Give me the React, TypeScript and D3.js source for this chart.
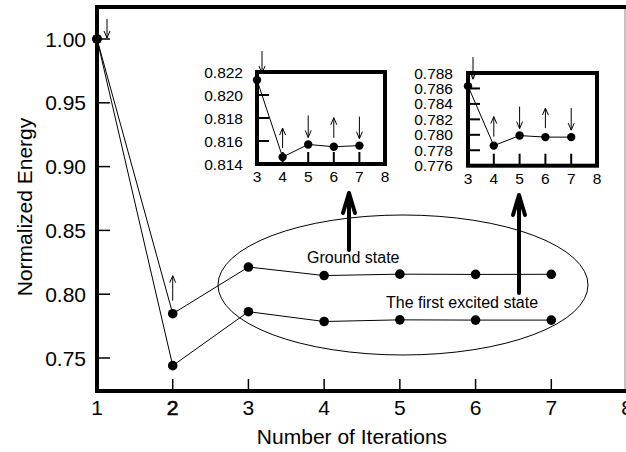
import React from 'react';
import * as d3 from 'd3';

// iterations and normalized energies
const iterations = [1, 2, 3, 4, 5, 6, 7];
const groundState = [1.0, 0.7847, 0.8213, 0.8146, 0.8157, 0.8155, 0.8156];
const excitedState = [1.0, 0.744, 0.7863, 0.7786, 0.7799, 0.7797, 0.7797];

const mainXTicks = [1, 2, 3, 4, 5, 6, 7, 8];
const mainYTicks = [0.75, 0.8, 0.85, 0.9, 0.95, 1.0];

// zoomed views of iterations 3..7
const insetIterations = [3, 4, 5, 6, 7];
const insetXTicks = [3, 4, 5, 6, 7, 8];
const insetArrows = ['down', 'up', 'down', 'up', 'down'];
const groundTicks = [0.814, 0.816, 0.818, 0.82, 0.822];
const excitedTicks = [0.776, 0.778, 0.78, 0.782, 0.784, 0.786, 0.788];

const FONT = 'Liberation Sans, Arial, sans-serif';

const Arrow = ({ x, y, dir, len = 20, head = 7, hw = 3 }) => {
  // y = lower end of the arrow's extent
  const top = y - len;
  const tipY = dir === 'down' ? y : top;
  const s = dir === 'down' ? -1 : 1;
  return (
    <g stroke="#000" strokeWidth={1} fill="none">
      <line x1={x} y1={top} x2={x} y2={y} />
      <polyline points={`${x - hw},${tipY + s * head} ${x},${tipY} ${x + hw},${tipY + s * head}`} />
    </g>
  );
};

const BigArrow = ({ x, y1, y2 }) => (
  <g stroke="#000" fill="none" strokeLinecap="round" strokeLinejoin="round">
    <line x1={x} y1={y1} x2={x} y2={y2 + 2} strokeWidth={4} />
    <polyline points={`${x - 6},${y2 + 20} ${x},${y2} ${x + 6},${y2 + 20}`} strokeWidth={4} />
  </g>
);

const Inset = ({ x0, x1, y0, y1, ticks, values, labelX }) => {
  const x = d3.scaleLinear().domain([3, 8]).range([x0, x1]);
  const y = d3.scaleLinear().domain([ticks[0], ticks[ticks.length - 1]]).range([y1, y0]);
  const line = d3.line<number>().x((_, i) => x(insetIterations[i])).y((d) => y(d));
  return (
    <g>
      {ticks.slice(1, -1).map((t) => (
        <line key={t} x1={x0} x2={x0 + 12} y1={y(t)} y2={y(t)} stroke="#000" strokeWidth={2} />
      ))}
      {insetXTicks.slice(1, -1).map((t) => (
        <line key={t} x1={x(t)} x2={x(t)} y1={y1} y2={y1 - 12} stroke="#000" strokeWidth={2} />
      ))}
      <rect x={x0} y={y0} width={x1 - x0} height={y1 - y0} fill="none" stroke="#000" strokeWidth={4} />
      {ticks.map((t) => (
        <text key={t} x={labelX} y={y(t)} dy="0.36em" textAnchor="end" fontSize={15.5} fontFamily={FONT}>
          {t.toFixed(3)}
        </text>
      ))}
      {insetXTicks.map((t) => (
        <text key={t} x={x(t)} y={y1 + 18} textAnchor="middle" fontSize={15.5} fontFamily={FONT}>
          {t}
        </text>
      ))}
      <path d={line(values) || ''} fill="none" stroke="#000" strokeWidth={1} />
      {values.map((v, i) => (
        <circle key={i} cx={x(insetIterations[i])} cy={y(v)} r={4.2} fill="#000" />
      ))}
      {values.map((v, i) => {
        const dir = insetArrows[i];
        const ax = x(insetIterations[i]) + (i === 0 ? 5 : 0);
        const base = dir === 'down' ? y(v) - 7 : y(v) - 9;
        return <Arrow key={i} x={ax} y={base} dir={dir} len={dir === 'down' ? 22 : 20} />;
      })}
    </g>
  );
};

export default function App() {
  const W = 626;
  const H = 452;
  const x = d3.scaleLinear().domain([1, 8]).range([97, 627]);
  const y = d3.scaleLinear().domain([0.75, 1.0]).range([358, 39]);
  const top = 7;
  const bottom = 391;
  const left = 97;
  const right = 625;
  const line = d3.line<number>().x((_, i) => x(iterations[i])).y((d) => y(d));

  return (
    <svg width={W} height={H} style={{ position: 'absolute', left: 0, top: 0 }}>
      <rect width={W} height={H} fill="#fff" />
      {/* frame */}
      <line x1={right} x2={right} y1={top} y2={bottom} stroke="#888" strokeWidth={1} />
      <line x1={left} x2={W} y1={top} y2={top} stroke="#000" strokeWidth={4} />
      <line x1={left} x2={W} y1={bottom} y2={bottom} stroke="#000" strokeWidth={4} />
      <line x1={left} x2={left} y1={top - 2} y2={bottom + 2} stroke="#000" strokeWidth={4} />
      {mainYTicks.map((t) => (
        <g key={t}>
          <line x1={left} x2={left + 13} y1={y(t)} y2={y(t)} stroke="#000" strokeWidth={1.5} />
          <text x={86} y={y(t)} dy="0.36em" textAnchor="end" fontSize={21} fontFamily={FONT}>
            {t.toFixed(2)}
          </text>
        </g>
      ))}
      {mainXTicks.map((t) => (
        <g key={t}>
          {t > 1 && t < 8 && (
            <line x1={x(t)} x2={x(t)} y1={bottom} y2={bottom - 12} stroke="#000" strokeWidth={1.5} />
          )}
          <text
            x={x(t)}
            y={415}
            textAnchor="middle"
            fontSize={21}
            fontFamily={FONT}
            stroke={t === 2 ? '#000' : 'none'}
            strokeWidth={0.6}
          >
            {t}
          </text>
        </g>
      ))}
      <text x={352} y={444} textAnchor="middle" fontSize={21} fontFamily={FONT}>
        Number of Iterations
      </text>
      <text transform="translate(32,207) rotate(-90)" textAnchor="middle" fontSize={21} fontFamily={FONT}>
        Normalized Energy
      </text>

      {/* highlight of the converged region */}
      <ellipse cx={403} cy={285} rx={185} ry={70} fill="none" stroke="#000" strokeWidth={1} />

      <path d={line(groundState) || ''} fill="none" stroke="#000" strokeWidth={1} />
      <path d={line(excitedState) || ''} fill="none" stroke="#000" strokeWidth={1} />
      {iterations.map((it, i) => (
        <g key={it}>
          <circle cx={x(it)} cy={y(groundState[i])} r={4.8} fill="#000" />
          <circle cx={x(it)} cy={y(excitedState[i])} r={4.8} fill="#000" />
        </g>
      ))}
      <Arrow x={x(1) + 10} y={y(groundState[0]) - 1} dir="down" len={19} />
      <Arrow x={x(2)} y={y(groundState[1]) - 13} dir="up" len={25} />

      <text x={307} y={263} fontSize={16} fontFamily={FONT}>Ground state</text>
      <text x={386} y={308} fontSize={16} fontFamily={FONT}>The first excited state</text>

      <BigArrow x={349} y1={250} y2={193} />
      <BigArrow x={519} y1={293} y2={195} />

      <Inset x0={257} x1={385} y0={72} y1={164} ticks={groundTicks} values={groundState.slice(2)} labelX={243} />
      <Inset x0={468} x1={597} y0={73} y1={165.7} ticks={excitedTicks} values={excitedState.slice(2)} labelX={453} />
    </svg>
  );
}
